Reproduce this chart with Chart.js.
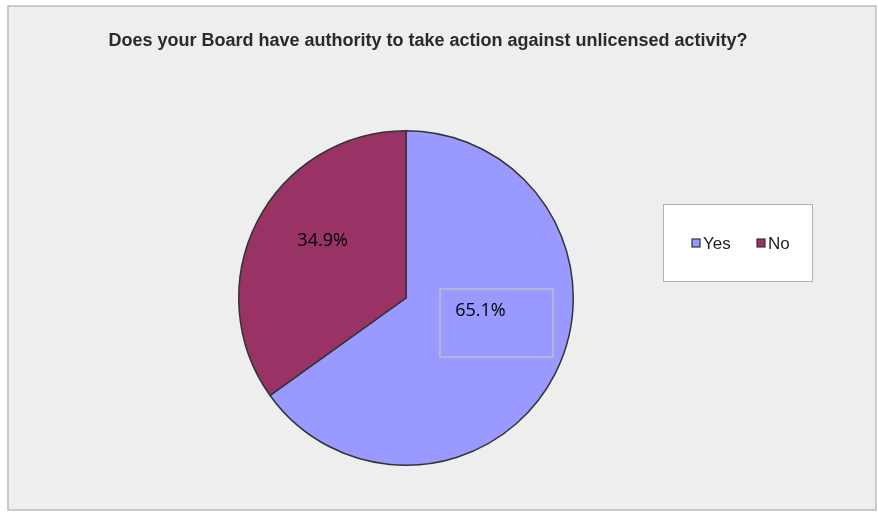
<!DOCTYPE html>
<html>
<head>
<meta charset="utf-8">
<script src="https://cdn.jsdelivr.net/npm/chart.js@4/dist/chart.umd.min.js"></script>
<style>
  html, body { margin: 0; padding: 0; background: #ffffff; }
  #wrap { width: 878px; height: 515px; }
</style>
</head>
<body>
<div id="wrap"><canvas id="chart" width="878" height="515"></canvas></div>
<script>
// Dados do gráfico
const categories = ['Yes', 'No'];
const shares = [65.1, 34.9];
const sliceColors = ['#9999ff', '#993366'];
const chartTitle = 'Does your Board have authority to take action against unlicensed activity?';

// Fundo, moldura, título, rótulos e legenda
const decor = {
  id: 'decor',
  beforeDraw(chart) {
    const c = chart.ctx;
    c.save();
    c.fillStyle = '#ffffff';
    c.fillRect(0, 0, chart.width, chart.height);
    c.fillStyle = '#eeeeee';
    c.fillRect(8, 6, 868, 504);
    c.strokeStyle = '#bcbcbc';
    c.lineWidth = 1.5;
    c.strokeRect(8, 6, 868, 504);

    c.fillStyle = '#2a2a2a';
    c.font = 'bold 18px "Liberation Sans", Arial, sans-serif';
    c.textAlign = 'center';
    c.textBaseline = 'middle';
    c.fillText(chartTitle, 428, 41);
    c.restore();
  },
  afterDatasetsDraw(chart) {
    const c = chart.ctx;
    const arcs = chart.getDatasetMeta(0).data;
    c.save();
    // rótulos de percentagem
    c.font = '18px "Open Sans", "Noto Sans", sans-serif';
    c.textAlign = 'center';
    c.textBaseline = 'middle';
    c.fillStyle = '#000000';
    const offsets = [[0, -25], [-9, -19]];
    arcs.forEach((arc, i) => {
      const p = arc.tooltipPosition();
      const x = p.x + offsets[i][0];
      const y = p.y + offsets[i][1];
      if (i === 0) {
        c.strokeStyle = '#bdbdc8';
        c.lineWidth = 1.5;
        c.strokeRect(440, 289, 113, 68);
      }
      c.fillText(shares[i].toFixed(1) + '%', x, y);
    });

    // legenda
    c.fillStyle = '#ffffff';
    c.fillRect(663, 204, 149, 77);
    c.strokeStyle = '#b3b3b3';
    c.lineWidth = 1;
    c.strokeRect(663.5, 204.5, 149, 77);
    c.font = '17px "Liberation Sans", Arial, sans-serif';
    c.textAlign = 'left';
    const lx = [692, 757];
    categories.forEach((name, i) => {
      c.fillStyle = sliceColors[i];
      c.fillRect(lx[i], 239, 8, 8);
      c.strokeStyle = '#333333';
      c.lineWidth = 1.2;
      c.strokeRect(lx[i], 239, 8, 8);
      c.fillStyle = '#222222';
      c.fillText(name, lx[i] + 11, 244);
    });
    c.restore();
  }
};

const config = {
  type: 'pie',
  data: {
    labels: categories,
    datasets: [{
      data: shares,
      backgroundColor: sliceColors,
      borderColor: '#333333',
      borderWidth: 1.5
    }]
  },
  options: {
    responsive: false,
    animation: false,
    layout: { padding: { left: 238, right: 304, top: 130, bottom: 49 } },
    plugins: {
      legend: { display: false },
      tooltip: { enabled: false }
    }
  },
  plugins: [decor]
};

const myChart = new Chart(document.getElementById('chart'), config);
</script>
</body>
</html>
